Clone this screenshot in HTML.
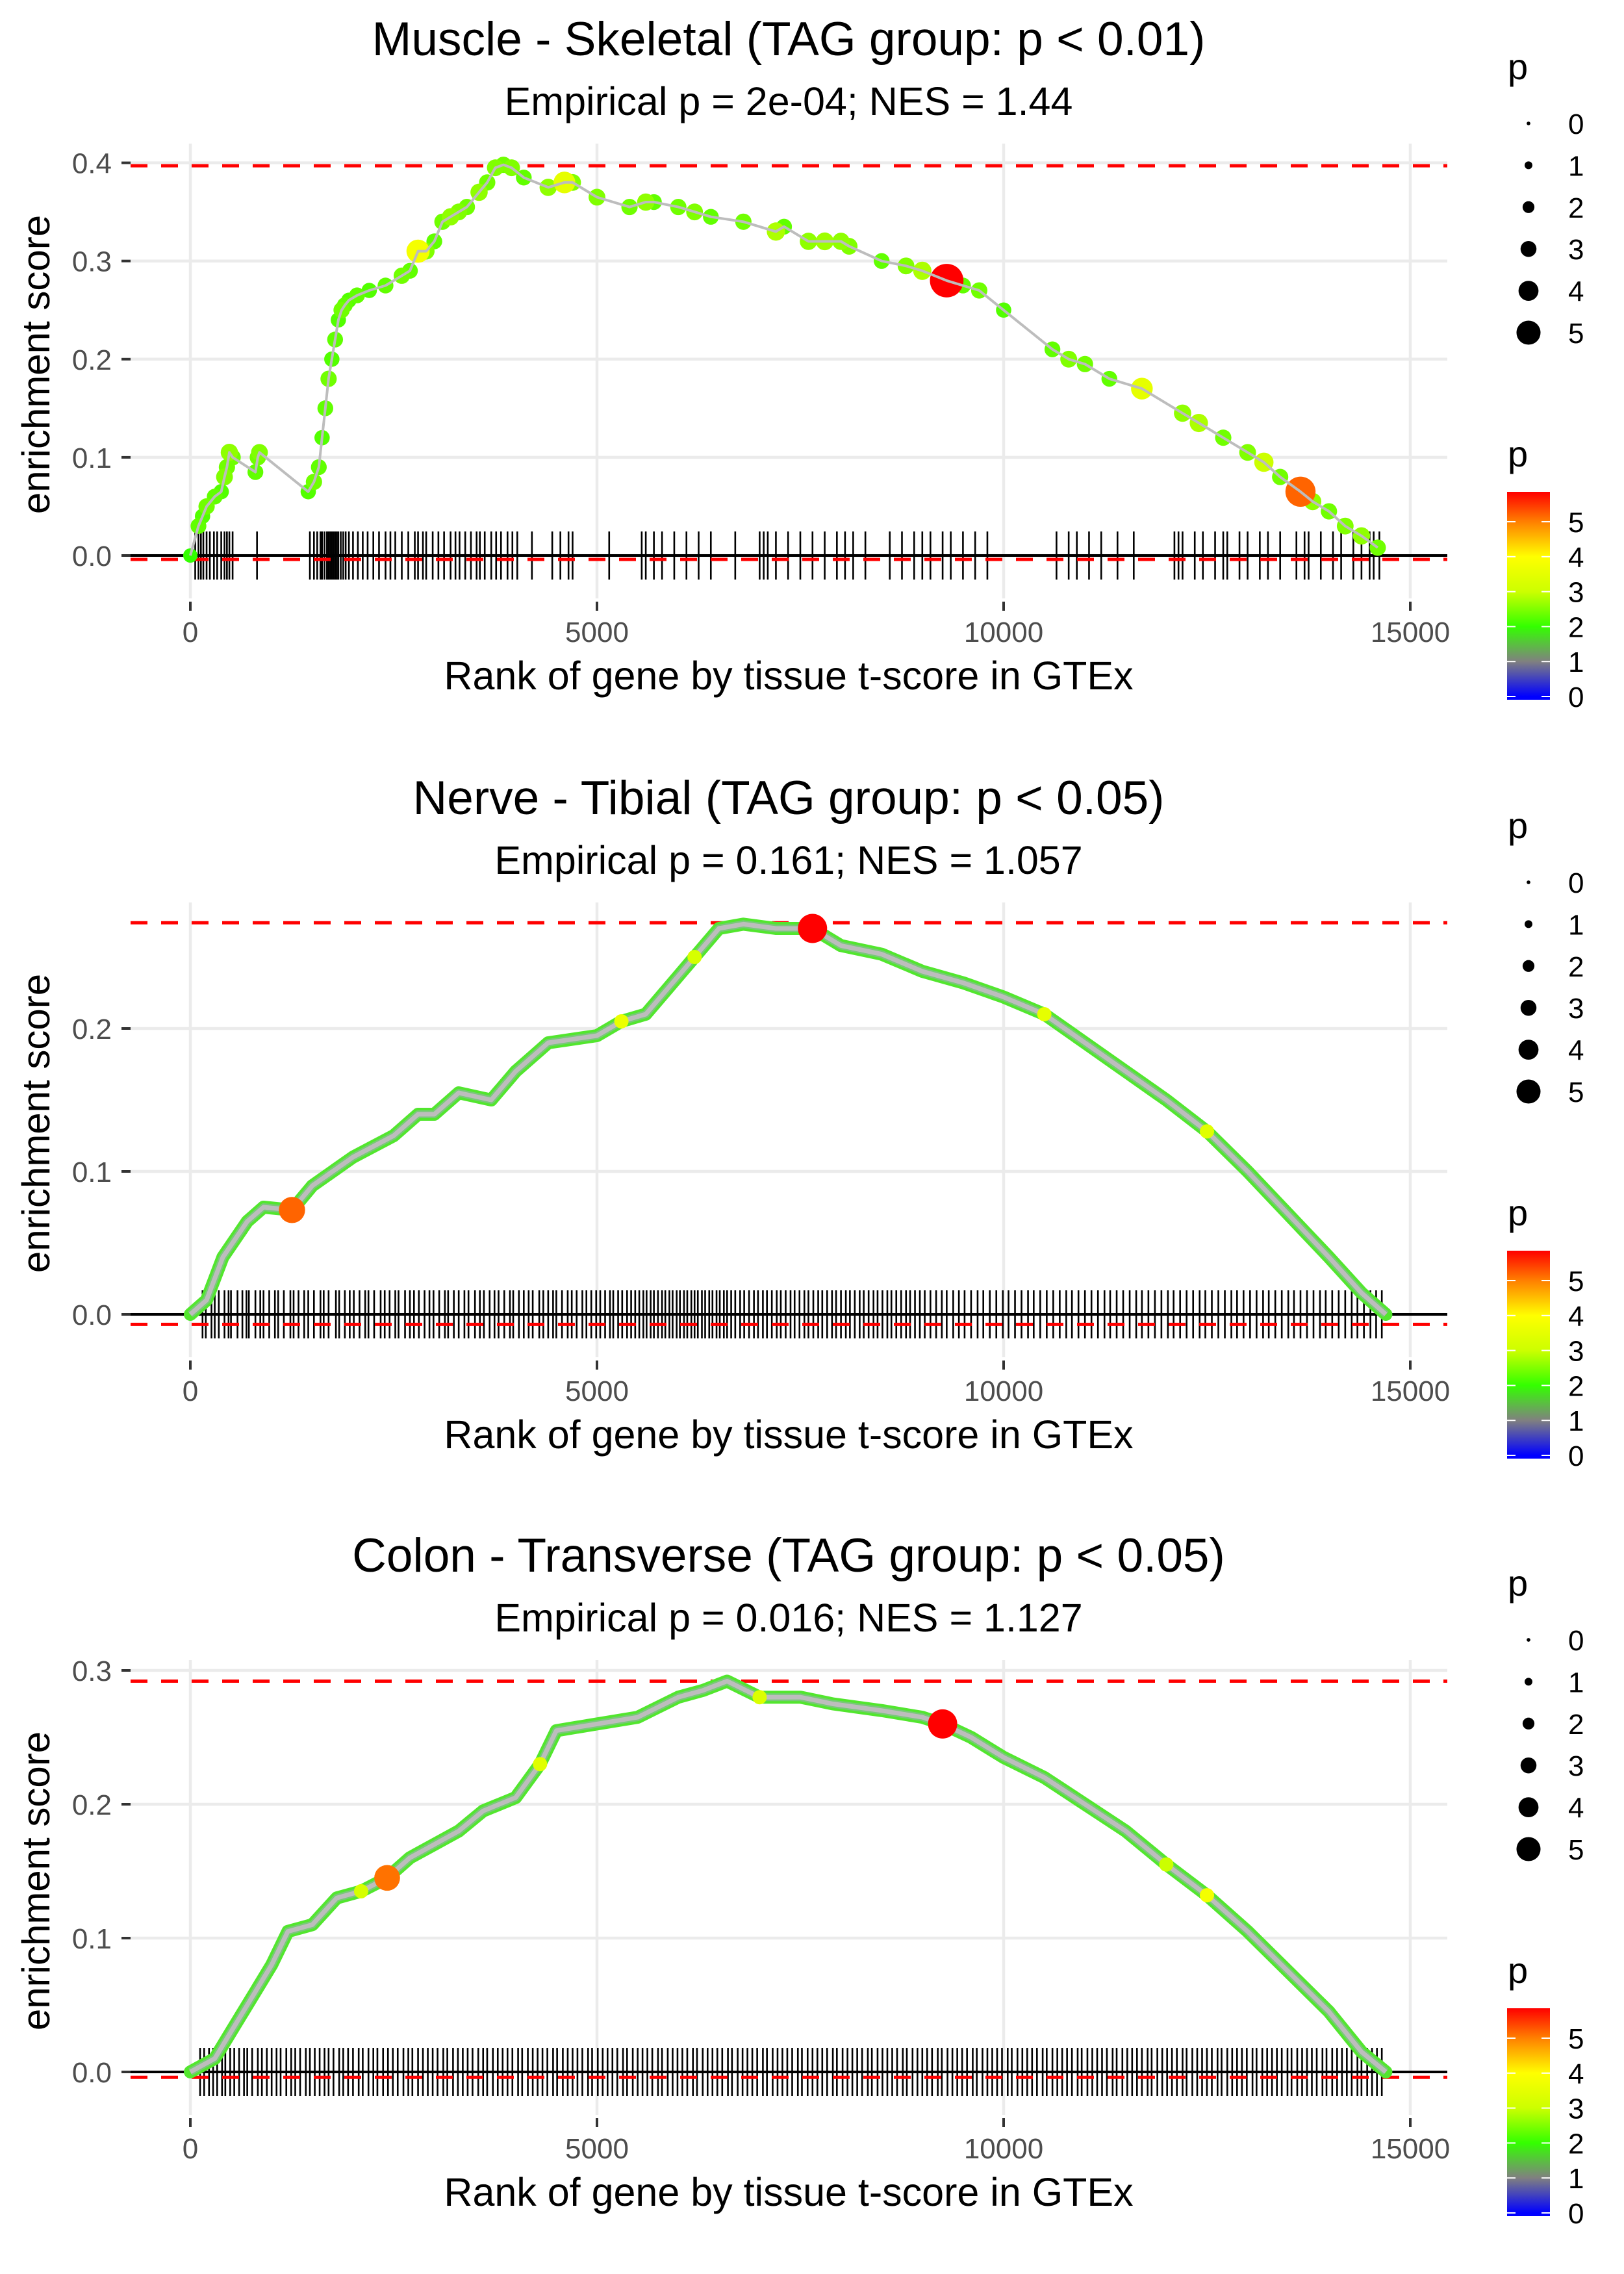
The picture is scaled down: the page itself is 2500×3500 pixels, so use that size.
<!DOCTYPE html>
<html><head><meta charset="utf-8"><style>
html,body{margin:0;padding:0;background:#fff}
svg{display:block}
text{font-family:"Liberation Sans",Arial,sans-serif}
</style></head><body>
<svg id="chart" width="2500" height="3500" viewBox="0 0 2500 3500" xmlns="http://www.w3.org/2000/svg">
<defs>
<linearGradient id="pgrad" x1="0" y1="1" x2="0" y2="0">
<stop offset="0" stop-color="#0000ff"/><stop offset="0.016" stop-color="#0000ff"/><stop offset="0.184" stop-color="#808080"/><stop offset="0.352" stop-color="#33ff00"/><stop offset="0.52" stop-color="#ccff00"/><stop offset="0.688" stop-color="#ffff00"/><stop offset="0.856" stop-color="#ff8000"/><stop offset="1" stop-color="#ff0000"/>
</linearGradient>
</defs>
</svg>
<script>
const titles = ["Muscle - Skeletal (TAG group: p < 0.01)","Nerve - Tibial (TAG group: p < 0.05)","Colon - Transverse (TAG group: p < 0.05)"];
const subtitles = ["Empirical p = 2e-04; NES = 1.44","Empirical p = 0.161; NES = 1.057","Empirical p = 0.016; NES = 1.127"];
const xTicks = [0,5000,10000,15000];
const yTicks1 = [0,0.1,0.2,0.3,0.4];
const yTicks2 = [0,0.1,0.2];
const yTicks3 = [0,0.1,0.2,0.3];
const maxES = [0.397,0.274,0.292];
const minES = [-0.004,-0.007,-0.004];

const p1Rank=[0,100,150,200,300,380,420,450,480,520,800,830,850,1450,1520,1580,1620,1660,1700,1740,1780,1820,1860,1900,1950,2050,2200,2400,2600,2700,2800,2900,3000,3100,3200,3300,3400,3550,3650,3750,3850,3950,4100,4400,4600,4700,5000,5400,5600,5700,6000,6200,6400,6800,7200,7300,7600,7800,8000,8100,8500,8800,9000,9300,9500,9700,10000,10600,10800,11000,11300,11700,12200,12400,12700,13000,13200,13400,13650,13800,14000,14200,14400,14600];
const p1ES=[0,0.03,0.04,0.05,0.06,0.065,0.08,0.09,0.105,0.1,0.085,0.1,0.105,0.065,0.075,0.09,0.12,0.15,0.18,0.2,0.22,0.24,0.25,0.255,0.26,0.265,0.27,0.275,0.285,0.29,0.31,0.31,0.32,0.34,0.345,0.35,0.355,0.37,0.38,0.395,0.398,0.395,0.385,0.375,0.38,0.38,0.365,0.355,0.36,0.36,0.355,0.35,0.345,0.34,0.33,0.335,0.32,0.32,0.32,0.315,0.3,0.295,0.29,0.28,0.275,0.27,0.25,0.21,0.2,0.195,0.18,0.17,0.145,0.135,0.12,0.105,0.095,0.08,0.065,0.055,0.045,0.03,0.02,0.008];
const p1P=[2,2.3,2.2,2.4,2.3,2.2,2.5,2.4,2.6,2.4,2.3,2.4,2.5,2.2,2.4,2.3,2.2,2.3,2.4,2.2,2.3,2.2,2.4,2.3,2.2,2.3,2.2,2.3,2.4,2.3,3.8,2.5,2.3,2.4,2.6,2.5,2.4,2.6,2.4,2.5,2.4,2.5,2.3,2.6,3.5,2.5,2.5,2.4,2.6,2.3,2.4,2.5,2.3,2.4,2.8,2.3,2.6,2.7,2.6,2.5,2.3,2.5,2.8,5.9,2.3,2.4,2.2,2.3,2.5,2.4,2.3,3.5,2.6,2.8,2.4,2.5,3.0,2.4,5.2,2.6,2.4,2.5,2.6,2.4];
const p1Hits=[60,100,130,160,200,240,290,330,380,420,450,480,520,820,1470,1520,1560,1600,1620,1650,1680,1700,1720,1740,1760,1780,1800,1820,1850,1880,1910,1950,2000,2060,2120,2180,2250,2320,2400,2460,2520,2600,2680,2760,2800,2860,2900,2980,3050,3120,3200,3260,3310,3380,3450,3520,3560,3620,3700,3760,3820,3900,3960,4020,4200,4450,4550,4650,4700,5150,5550,5600,5700,5800,5950,6100,6250,6400,6700,7000,7050,7100,7200,7350,7500,7650,7800,7950,8050,8150,8300,8600,8750,8900,9000,9100,9250,9350,9500,9650,9800,10650,10800,10900,11050,11200,11400,11600,12100,12150,12200,12350,12450,12600,12700,12750,12900,13000,13150,13250,13400,13600,13700,13750,13900,14050,14150,14300,14400,14500,14550,14620];

const p2Rank=[0,200,400,700,900,1250,1500,2000,2500,2800,3000,3300,3700,4000,4400,5000,5300,5600,5900,6200,6500,6800,7200,7650,8000,8500,9000,9500,10000,10500,11000,11500,12000,12500,13000,13500,14000,14400,14700];
const p2ES=[0,0.01,0.04,0.065,0.075,0.073,0.09,0.11,0.125,0.14,0.14,0.155,0.15,0.17,0.19,0.195,0.205,0.21,0.23,0.25,0.27,0.273,0.27,0.27,0.258,0.252,0.24,0.232,0.222,0.21,0.19,0.17,0.15,0.128,0.1,0.07,0.04,0.015,0];
const p2P=[2,2.4,2.3,2.5,2.3,5.2,2.4,2.3,2.5,2.3,2.4,2.6,2.5,2.3,2.4,2.5,3.6,2.4,2.3,3.2,2.4,2.3,2.5,5.9,2.4,2.3,2.5,2.4,2.3,3.5,2.4,2.3,2.4,3.4,2.3,2.4,2.3,2.5,2.2];
const p2Hits=[150,190,260,300,350,420,470,500,580,640,690,720,800,860,900,970,1040,1080,1150,1230,1270,1330,1400,1450,1520,1600,1640,1700,1790,1830,1900,1960,2010,2080,2150,2190,2260,2340,2390,2450,2520,2560,2640,2700,2750,2810,2880,2940,2990,3060,3130,3170,3240,3300,3370,3420,3500,3560,3610,3680,3740,3790,3860,3930,3970,4040,4100,4160,4210,4290,4340,4400,4460,4500,4570,4640,4690,4750,4820,4870,4930,4990,5040,5100,5160,5200,5260,5310,5370,5420,5470,5520,5570,5610,5660,5700,5750,5800,5840,5890,5930,5980,6020,6070,6110,6160,6200,6240,6290,6330,6380,6420,6470,6510,6560,6600,6650,6700,6760,6810,6870,6930,6980,7040,7090,7150,7210,7260,7320,7380,7430,7490,7550,7600,7660,7720,7770,7830,7890,7940,8000,8060,8110,8170,8230,8280,8340,8400,8450,8510,8570,8620,8680,8740,8800,8850,8910,8970,9030,9100,9170,9240,9300,9380,9450,9520,9600,9680,9750,9830,9910,9990,10060,10140,10220,10300,10370,10450,10530,10610,10690,10770,10840,10920,11000,11080,11160,11240,11310,11390,11470,11550,11630,11700,11780,11860,11940,12020,12090,12170,12250,12330,12410,12480,12560,12640,12720,12800,12870,12950,13030,13110,13190,13260,13340,13420,13500,13570,13650,13730,13810,13890,13960,14040,14120,14200,14280,14350,14430,14510,14580,14650];

const p3Rank=[0,300,500,800,1000,1200,1500,1800,2100,2420,2700,3000,3300,3600,4000,4300,4500,5000,5500,6000,6300,6600,7000,7500,7900,8500,9000,9250,9600,10000,10500,11000,11500,12000,12500,13000,13500,14000,14400,14700];
const p3ES=[0,0.01,0.03,0.06,0.08,0.105,0.11,0.13,0.135,0.145,0.16,0.17,0.18,0.195,0.205,0.23,0.255,0.26,0.265,0.28,0.285,0.292,0.28,0.28,0.275,0.27,0.265,0.26,0.25,0.235,0.22,0.2,0.18,0.155,0.132,0.105,0.075,0.045,0.015,0];
const p3P=[2,2.4,2.3,2.5,2.3,2.4,2.6,2.5,3.2,5.1,2.4,2.3,2.5,2.4,2.3,3.4,2.4,2.3,2.5,2.4,2.6,2.3,3.3,2.4,2.5,2.3,2.4,5.9,2.3,2.4,2.3,2.5,2.4,3.0,3.8,2.4,2.3,2.4,2.5,2.2];
const p3Hits=[120,170,230,280,330,390,430,490,540,600,660,700,760,830,880,940,1000,1060,1110,1180,1240,1290,1350,1420,1470,1530,1590,1650,1700,1760,1830,1880,1940,2000,2070,2120,2190,2250,2300,2370,2430,2490,2550,2620,2680,2730,2800,2860,2920,2980,3040,3110,3160,3230,3290,3350,3410,3470,3540,3600,3650,3720,3780,3840,3900,3960,4030,4080,4150,4210,4270,4330,4390,4460,4510,4580,4640,4700,4760,4820,4890,4940,5010,5070,5130,5190,5250,5320,5370,5440,5500,5560,5620,5680,5750,5800,5870,5930,5990,6050,6110,6180,6230,6300,6360,6420,6480,6540,6610,6660,6730,6790,6850,6910,6970,7040,7090,7160,7220,7280,7340,7400,7470,7520,7590,7650,7710,7770,7830,7900,7950,8020,8080,8140,8200,8260,8330,8380,8450,8510,8570,8630,8690,8760,8810,8880,8940,9000,9060,9120,9190,9240,9310,9370,9430,9490,9550,9620,9670,9740,9800,9860,9920,9980,10050,10100,10170,10230,10290,10350,10410,10480,10530,10600,10660,10720,10780,10840,10910,10960,11030,11090,11150,11210,11270,11340,11390,11460,11520,11580,11640,11700,11770,11820,11890,11950,12010,12070,12130,12200,12250,12320,12380,12440,12500,12560,12630,12680,12750,12810,12870,12930,12990,13060,13110,13180,13240,13300,13360,13420,13490,13540,13610,13670,13730,13790,13850,13920,13970,14040,14100,14160,14220,14280,14350,14400,14470,14530,14590,14650];

const NS="http://www.w3.org/2000/svg";
const svg=document.getElementById('chart');
function mk(tag,attrs,parent){const e=document.createElementNS(NS,tag);for(const k in attrs)e.setAttribute(k,attrs[k]);(parent||svg).appendChild(e);return e;}
function txt(s,attrs,parent){const e=mk('text',attrs,parent);e.textContent=s;return e;}
function hex(c){return [parseInt(c.substr(1,2),16),parseInt(c.substr(3,2),16),parseInt(c.substr(5,2),16)];}
const cStops=[[0,'#0000ff'],[1,'#808080'],[2,'#33ff00'],[3,'#ccff00'],[4,'#ffff00'],[5,'#ff8000'],[5.9,'#ff0000']];
function colorOf(p){for(let i=0;i<cStops.length-1;i++){const a=cStops[i],b=cStops[i+1];if(p<=b[0]){const t=Math.max(0,(p-a[0])/(b[0]-a[0]));const A=hex(a[1]),B=hex(b[1]);return 'rgb('+A.map((v,j)=>Math.round(v+(B[j]-v)*t)).join(',')+')';}}return '#ff0000';}
function radiusOf(p){return 3+3.3*p;}
const X0=293, XPX=(2171-293)/15000;
function xs(r){return X0+r*XPX;}
const PL=201, PR=2228;

const panels=[
 {off:0,y0:855,ppu:1511,ticks:yTicks1,rank:p1Rank,es:p1ES,p:p1P,hits:p1Hits,thick:false},
 {off:1168,y0:2023,ppu:2200,ticks:yTicks2,rank:p2Rank,es:p2ES,p:p2P,hits:p2Hits,thick:true},
 {off:2334,y0:3189,ppu:2060,ticks:yTicks3,rank:p3Rank,es:p3ES,p:p3P,hits:p3Hits,thick:true}
];

panels.forEach((P,k)=>{
 const g=mk('g',{});
 
 
 const ys=v=>P.y0-v*P.ppu;
 const top=P.off+221, bot=P.off+921;
 const t=txt(titles[k],{x:1214,y:P.off+85,'font-size':73,'text-anchor':'middle',fill:'#000'},g);
 
 
 const st=txt(subtitles[k],{x:1214,y:P.off+177,'font-size':61,'text-anchor':'middle',fill:'#000'},g);
 
 
 P.ticks.forEach(v=>{
  const l=mk('line',{x1:PL,x2:PR,y1:ys(v),y2:ys(v),stroke:'#ebebeb','stroke-width':4.5},g);
  
  
  const tk=mk('line',{x1:187,x2:201,y1:ys(v),y2:ys(v),stroke:'#333','stroke-width':4},g);
  
  
  const tl=txt(v.toFixed(1),{x:172,y:ys(v)+16,'font-size':44,'text-anchor':'end',fill:'#4d4d4d'},g);
  
  
 });
 xTicks.forEach(v=>{
  const l=mk('line',{x1:xs(v),x2:xs(v),y1:top,y2:bot,stroke:'#ebebeb','stroke-width':4.5},g);
  
  
  const tk=mk('line',{x1:xs(v),x2:xs(v),y1:bot+5,y2:bot+19,stroke:'#333','stroke-width':4},g);
  
  
  const tl=txt(String(v),{x:xs(v),y:P.off+988,'font-size':44,'text-anchor':'middle',fill:'#4d4d4d'},g);
  
  
 });
 const xt=txt('Rank of gene by tissue t-score in GTEx',{x:1214,y:P.off+1061,'font-size':61,'text-anchor':'middle',fill:'#000'},g);
 
 
 const cy=(top+bot)/2-10;
 const yt=txt('enrichment score',{x:76,y:cy,'font-size':60,'text-anchor':'middle',fill:'#000',transform:'rotate(-90 76 '+cy+')'},g);
 
 
 P.hits.forEach(h=>{
  const l=mk('line',{x1:xs(h),x2:xs(h),y1:P.y0-37,y2:P.y0+37,stroke:'#000','stroke-width':2.6},g);
  
  
 });
 const zl=mk('line',{x1:PL,x2:PR,y1:P.y0,y2:P.y0,stroke:'#000','stroke-width':4},g);
 
 
 [maxES[k],minES[k]].forEach((v,i)=>{
  const d=mk('line',{x1:PL,x2:PR,y1:ys(v),y2:ys(v),stroke:'#ff0000','stroke-width':5,'stroke-dasharray':'26,21'},g);
  
  
 });
 const pts=P.rank.map((r,i)=>xs(r).toFixed(1)+','+ys(P.es[i]).toFixed(1)).join(' ');
 if(P.thick){
  const band=mk('polyline',{points:pts,fill:'none',stroke:'#52e62e','stroke-width':20,'stroke-linejoin':'round','stroke-linecap':'round'},g);
  
  
  const band2=mk('polyline',{points:pts,fill:'none',stroke:'#78c878','stroke-width':12,'stroke-linejoin':'round'},g);
  
  
 }
 const order=P.p.map((v,i)=>i).sort((a,b)=>P.p[a]-P.p[b]);
 if(!P.thick){
  order.forEach(i=>{
   const c=mk('circle',{cx:xs(P.rank[i]),cy:ys(P.es[i]),r:radiusOf(P.p[i])*1.15,fill:colorOf(P.p[i])},g);
   
   
  });
 }
 const line=mk('polyline',{points:pts,fill:'none',stroke:'#bdbdbd','stroke-width':P.thick?7:4,'stroke-linejoin':'round'},g);
 
 
 if(P.thick){
  order.forEach(i=>{
   if(P.p[i]<3) return;
   const c=mk('circle',{cx:xs(P.rank[i]),cy:ys(P.es[i]),r:P.p[i]>4?radiusOf(P.p[i]):11,fill:colorOf(P.p[i])},g);
   
   
  });
 }
 const lg=mk('g',{},g);
 
 
 txt('p',{x:2321,y:P.off+122,'font-size':56,fill:'#000'},lg);
 [0,1,2,3,4,5].forEach((v,i)=>{
  const yy=P.off+190+i*64.4;
  const c=mk('circle',{cx:2353,cy:yy,r:radiusOf(v)*0.95,fill:'#000'},lg);
  
  
  txt(String(v),{x:2414,y:yy+16,'font-size':44,fill:'#000'},lg);
 });
 const cg=mk('g',{},g);
 
 
 txt('p',{x:2321,y:P.off+718,'font-size':56,fill:'#000'},cg);
 const bar=mk('rect',{x:2320,y:P.off+757,width:66,height:320,fill:'url(#pgrad)'},cg);
 
 
 [0,1,2,3,4,5].forEach(v=>{
  const yy=P.off+1072-v*53.8;
  mk('line',{x1:2320,x2:2333,y1:yy,y2:yy,stroke:'#fff','stroke-width':2},cg);
  mk('line',{x1:2373,x2:2386,y1:yy,y2:yy,stroke:'#fff','stroke-width':2},cg);
  txt(String(v),{x:2414,y:yy+16,'font-size':44,fill:'#000'},cg);
 });
});
</script>
</body></html>
